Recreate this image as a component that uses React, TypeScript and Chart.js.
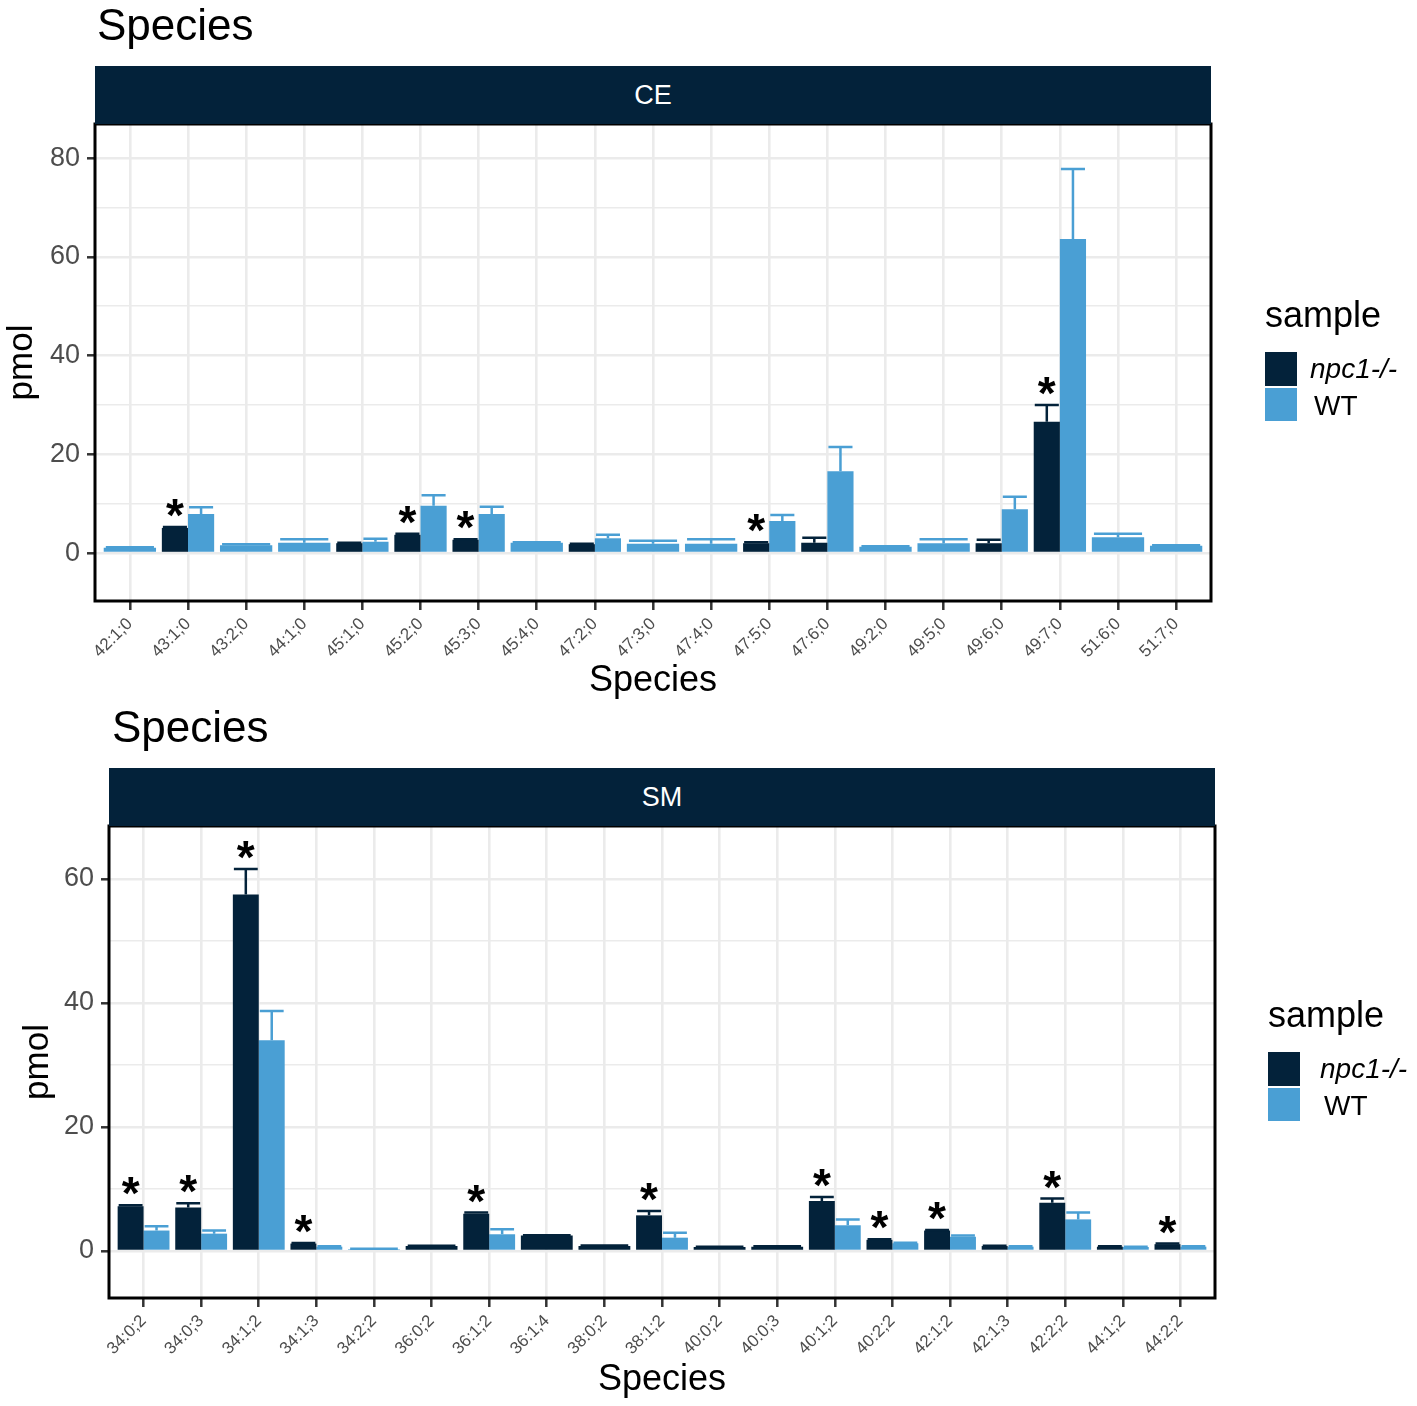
import { useEffect, useRef } from "react";
import { Chart, registerables } from "chart.js";

Chart.register(...registerables);

const FONT = '"Liberation Sans", Arial, Helvetica, sans-serif';
const NAVY = "#03223a";
const BLUE = "#4a9fd4";
const GRID = "#ebebeb";
const GREY = "#4d4d4d";

const BLOCK_W = 1417;
const BLOCK_H = 703;

type Val = number | null;

// CE panel (top)
const ceSpecies = [
  "42:1;0", "43:1;0", "43:2;0", "44:1;0", "45:1;0", "45:2;0", "45:3;0", "45:4;0", "47:2;0", "47:3;0",
  "47:4;0", "47:5;0", "47:6;0", "49:2;0", "49:5;0", "49:6;0", "49:7;0", "51:6;0", "51:7;0",
];
const ceNpc: Val[] = [null, 5.1, null, null, 2.0, 3.7, 2.7, null, 1.8, null, null, 2.0, 2.1, null, null, 2.0, 26.6, null, null];
const ceNpcErr = [0, 0.2, 0, 0, 0.1, 0.2, 0.1, 0, 0.1, 0, 0, 0.2, 1.0, 0, 0, 0.7, 3.4, 0, 0];
const ceWt: Val[] = [1.1, 7.9, 1.6, 2.1, 2.3, 9.6, 7.9, 2.1, 3.0, 1.9, 1.9, 6.5, 16.6, 1.3, 2.0, 8.9, 63.6, 3.2, 1.5];
const ceWtErr = [0.1, 1.4, 0.2, 0.7, 0.6, 2.1, 1.5, 0.1, 0.7, 0.6, 0.9, 1.2, 4.9, 0.1, 0.8, 2.5, 14.2, 0.7, 0.1];
const ceStars = ["43:1;0", "45:2;0", "45:3;0", "47:5;0", "49:7;0"];
const ceBreaks = [0, 10, 20, 30, 40, 50, 60, 70, 80];

// SM panel (bottom)
const smSpecies = [
  "34:0;2", "34:0;3", "34:1;2", "34:1;3", "34:2;2", "36:0;2", "36:1;2", "36:1;4", "38:0;2", "38:1;2",
  "40:0;2", "40:0;3", "40:1;2", "40:2;2", "42:1;2", "42:1;3", "42:2;2", "44:1;2", "44:2;2",
];
const smNpc: Val[] = [7.2, 7.0, 57.5, 1.2, null, 0.8, 6.0, 2.5, 0.8, 5.75, 0.65, 0.7, 8.05, 1.8, 3.3, 0.8, 7.8, 0.7, 1.1];
const smNpcErr = [0.2, 0.7, 4.1, 0.1, 0, 0.05, 0.2, 0.05, 0.1, 0.7, 0.05, 0.05, 0.65, 0.1, 0.1, 0.05, 0.65, 0.05, 0.1];
const smWt: Val[] = [3.3, 2.8, 34.0, 0.7, 0.3, null, 2.7, null, null, 2.15, null, null, 4.15, 1.25, 2.3, 0.7, 5.1, 0.65, 0.7];
const smWtErr = [0.7, 0.5, 4.7, 0.05, 0.05, 0, 0.8, 0, 0, 0.8, 0, 0, 0.95, 0.1, 0.2, 0.05, 1.1, 0.05, 0.05];
const smStars = ["34:0;2", "34:0;3", "34:1;2", "34:1;3", "36:1;2", "38:1;2", "40:1;2", "40:2;2", "42:1;2", "42:2;2", "44:2;2"];
const smBreaks = [0, 10, 20, 30, 40, 50, 60];

interface Geometry {
  top: number;
  plotLeft: number;
  plotRight: number;
  plotTop: number;
  plotBottom: number;
  stripTop: number;
  padLeft: number;
  yTitlePad: number;
  xTitlePad: number;
  headLeft: number;
  headTop: number;
  legendLeft: number;
  legendTop: number;
  keyTop: number;
  labelLeft: number;
}

interface PanelProps {
  facet: string;
  species: string[];
  npc: Val[];
  npcErr: number[];
  wt: Val[];
  wtErr: number[];
  stars: string[];
  yMin: number;
  yMax: number;
  breaks: number[];
  g: Geometry;
}

function Panel({ facet, species, npc, npcErr, wt, wtErr, stars, yMin, yMax, breaks, g }: PanelProps) {
  const canvasRef = useRef<HTMLCanvasElement>(null);

  useEffect(() => {
    if (!canvasRef.current) return;
    const n = species.length;
    const errs = [npcErr, wtErr];
    const colors = [NAVY, BLUE];
    const pts = (arr: Val[]) => arr.map((y, x) => ({ x, y }));

    // error bars, significance stars and the panel frame
    const overlay = {
      id: "overlay",
      afterDatasetsDraw(chart: any) {
        const { ctx, chartArea: a } = chart;
        const y = chart.scales.y;
        ctx.save();
        ctx.lineWidth = 2.5;
        [0, 1].forEach((d) => {
          const meta = chart.getDatasetMeta(d);
          const data = chart.data.datasets[d].data;
          meta.data.forEach((bar: any, i: number) => {
            const v = data[i].y;
            if (v == null) return;
            const top = y.getPixelForValue(v + errs[d][i]);
            const half = bar.width * 0.46;
            ctx.strokeStyle = colors[d];
            ctx.beginPath();
            ctx.moveTo(bar.x, bar.y);
            ctx.lineTo(bar.x, top);
            ctx.moveTo(bar.x - half, top);
            ctx.lineTo(bar.x + half, top);
            ctx.stroke();
          });
        });

        ctx.fillStyle = "#000";
        ctx.font = `bold 46px ${FONT}`;
        ctx.textAlign = "center";
        ctx.textBaseline = "alphabetic";
        stars.forEach((name) => {
          const i = species.indexOf(name);
          const bar: any = chart.getDatasetMeta(0).data[i];
          const top = y.getPixelForValue((npc[i] as number) + npcErr[i]);
          ctx.fillText("*", bar.x, top + 4);
        });

        ctx.strokeStyle = "#000";
        ctx.lineWidth = 3;
        ctx.strokeRect(a.left, a.top, a.right - a.left, a.bottom - a.top);
        ctx.restore();
      },
    };

    const chart = new Chart(canvasRef.current, {
      type: "bar",
      data: {
        datasets: [
          { label: "npc1-/-", data: pts(npc), backgroundColor: NAVY, categoryPercentage: 0.9, barPercentage: 1, borderWidth: 0, skipNull: true },
          { label: "WT", data: pts(wt), backgroundColor: BLUE, categoryPercentage: 0.9, barPercentage: 1, borderWidth: 0, skipNull: true },
        ] as any,
      },
      options: {
        animation: false,
        responsive: false,
        maintainAspectRatio: false,
        events: [],
        layout: { padding: { left: g.padLeft, right: BLOCK_W - g.plotRight, top: g.plotTop, bottom: 0 } },
        plugins: { legend: { display: false }, tooltip: { enabled: false } },
        scales: {
          x: {
            type: "linear",
            min: -0.6,
            max: n - 0.4,
            offset: false,
            afterBuildTicks: (s: any) => {
              s.ticks = species.map((_, i) => ({ value: i }));
            },
            afterFit: (s: any) => {
              s.height = BLOCK_H - g.plotBottom;
            },
            ticks: {
              autoSkip: false,
              minRotation: 45,
              maxRotation: 45,
              padding: 4,
              color: GREY,
              font: { size: 17, family: FONT },
              callback: (v: any) => species[v],
            },
            grid: { offset: false, color: GRID, lineWidth: 2.6, tickColor: "#333", tickLength: 9, tickWidth: 2.5 },
            border: { display: false },
            title: {
              display: true,
              text: "Species",
              color: "#000",
              font: { size: 36, family: FONT },
              padding: { top: 0, bottom: g.xTitlePad },
            },
          },
          y: {
            min: yMin,
            max: yMax,
            afterBuildTicks: (s: any) => {
              s.ticks = breaks.map((v) => ({ value: v }));
            },
            afterFit: (s: any) => {
              s.width = g.plotLeft - g.padLeft;
            },
            ticks: {
              color: GREY,
              font: { size: 27, family: FONT },
              padding: 7,
              callback: (v: any) => (v % 20 === 0 ? String(v) : ""),
            },
            grid: {
              color: GRID,
              lineWidth: (c: any) => (c.tick && c.tick.value % 20 === 0 ? 2.6 : 1.6),
              tickColor: (c: any) => (c.tick && c.tick.value % 20 === 0 ? "#333" : "rgba(0,0,0,0)"),
              tickLength: 8,
              tickWidth: 2.5,
            },
            border: { display: false },
            title: {
              display: true,
              text: "pmol",
              color: "#000",
              font: { size: 35, family: FONT },
              padding: { top: g.yTitlePad, bottom: 0 },
            },
          },
        } as any,
      },
      plugins: [overlay],
    });

    return () => {
      chart.destroy();
    };
  }, [species, npc, npcErr, wt, wtErr, stars, yMin, yMax, breaks, g]);

  return (
    <div style={{ position: "absolute", left: 0, top: g.top, width: BLOCK_W, height: BLOCK_H }}>
      <canvas ref={canvasRef} width={BLOCK_W} height={BLOCK_H} style={{ display: "block", width: BLOCK_W, height: BLOCK_H }} />
      <div style={{ position: "absolute", left: g.headLeft, top: g.headTop, font: `44px/1 ${FONT}`, color: "#000", whiteSpace: "nowrap" }}>
        Species
      </div>
      <div
        style={{
          position: "absolute",
          left: g.plotLeft,
          top: g.stripTop,
          width: g.plotRight - g.plotLeft,
          height: g.plotTop - g.stripTop,
          background: NAVY,
          color: "#fff",
          font: `27px/1 ${FONT}`,
          display: "flex",
          alignItems: "center",
          justifyContent: "center",
        }}
      >
        {facet}
      </div>
      <div style={{ position: "absolute", left: g.legendLeft, top: g.legendTop, font: `36px/1 ${FONT}`, color: "#000" }}>sample</div>
      <div style={{ position: "absolute", left: g.legendLeft, top: g.keyTop, width: 32, height: 34, background: NAVY }} />
      <div style={{ position: "absolute", left: g.legendLeft, top: g.keyTop + 36, width: 32, height: 33, background: BLUE }} />
      <div style={{ position: "absolute", left: g.labelLeft, top: g.keyTop + 3, font: `italic 28px/1 ${FONT}`, color: "#000", whiteSpace: "nowrap" }}>
        npc1-/-
      </div>
      <div style={{ position: "absolute", left: g.labelLeft + 4, top: g.keyTop + 40, font: `28px/1 ${FONT}`, color: "#000" }}>WT</div>
    </div>
  );
}

const ceGeometry: Geometry = {
  top: 0,
  plotLeft: 95,
  plotRight: 1211,
  plotTop: 124,
  plotBottom: 601,
  stripTop: 66,
  padLeft: 0,
  yTitlePad: 1,
  xTitlePad: 0,
  headLeft: 97,
  headTop: 3,
  legendLeft: 1265,
  legendTop: 297,
  keyTop: 352,
  labelLeft: 1310,
};

const smGeometry: Geometry = {
  top: 703,
  plotLeft: 109,
  plotRight: 1215,
  plotTop: 123,
  plotBottom: 595,
  stripTop: 65,
  padLeft: 12,
  yTitlePad: 5,
  xTitlePad: 4,
  headLeft: 112,
  headTop: 2,
  legendLeft: 1268,
  legendTop: 294,
  keyTop: 349,
  labelLeft: 1320,
};

export default function App() {
  return (
    <div style={{ position: "absolute", left: 0, top: 0, width: 1417, height: 1406, background: "#fff" }}>
      <Panel
        facet="CE"
        species={ceSpecies}
        npc={ceNpc}
        npcErr={ceNpcErr}
        wt={ceWt}
        wtErr={ceWtErr}
        stars={ceStars}
        yMin={-9.7}
        yMax={86.9}
        breaks={ceBreaks}
        g={ceGeometry}
      />
      <Panel
        facet="SM"
        species={smSpecies}
        npc={smNpc}
        npcErr={smNpcErr}
        wt={smWt}
        wtErr={smWtErr}
        stars={smStars}
        yMin={-7.58}
        yMax={68.55}
        breaks={smBreaks}
        g={smGeometry}
      />
    </div>
  );
}
